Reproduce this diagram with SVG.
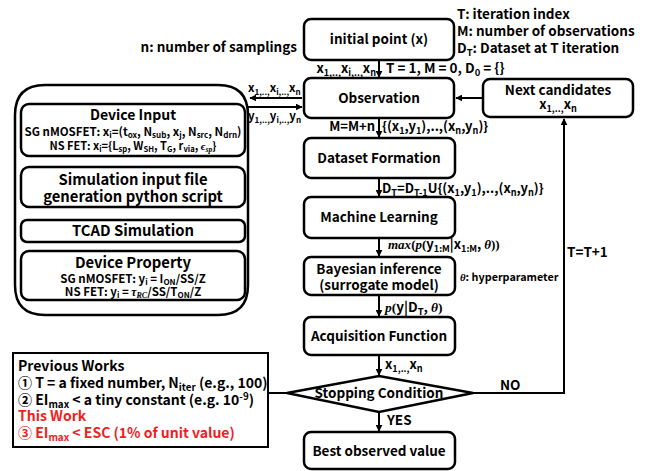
<svg xmlns="http://www.w3.org/2000/svg" width="654" height="471" viewBox="0 0 654 471">
<style>
text{font-family:"Noto Sans CJK KR","Noto Sans",sans-serif;font-weight:700;fill:#000}
.t15{font-size:13.5px}
.tb{font-size:14.8px}
.t14{font-size:13px}
.t12{font-size:11.5px}
.c{text-anchor:middle}
.e{text-anchor:end}
.s{font-size:70%}
.m{font-family:"Liberation Serif",serif;font-style:italic}
.n{font-family:"Liberation Serif",serif}
.box{fill:#fff;stroke:#000;stroke-width:2.5}
.ln{fill:none;stroke:#000;stroke-width:2}
.red{fill:#f01e1e}
</style>
<defs>
<marker id="ah" viewBox="0 0 10 10" refX="9" refY="5" markerWidth="3.5" markerHeight="3.5" orient="auto"><path d="M0,0 L10,5 L0,10 z" fill="#000"/></marker>
</defs>

<g id="connectors">
<line class="ln" x1="379" y1="60" x2="379" y2="77" marker-end="url(#ah)"/>
<line class="ln" x1="483" y1="98" x2="456" y2="98" marker-end="url(#ah)"/>
<line class="ln" x1="302" y1="98" x2="250" y2="98" marker-end="url(#ah)"/>
<line class="ln" x1="248" y1="107" x2="302" y2="107" marker-end="url(#ah)"/>
<line class="ln" x1="379" y1="118" x2="379" y2="137" marker-end="url(#ah)"/>
<line class="ln" x1="379" y1="178" x2="379" y2="196" marker-end="url(#ah)"/>
<line class="ln" x1="379" y1="238" x2="379" y2="256" marker-end="url(#ah)"/>
<line class="ln" x1="379" y1="295" x2="379" y2="316" marker-end="url(#ah)"/>
<line class="ln" x1="379" y1="355" x2="379" y2="375" marker-end="url(#ah)"/>
<line class="ln" x1="379" y1="412" x2="379" y2="431" marker-end="url(#ah)"/>
<polyline class="ln" points="473,393 564,393 564,119" marker-end="url(#ah)"/>
<line class="ln" x1="268" y1="393" x2="287" y2="393"/>
<line class="ln" x1="134" y1="156" x2="134" y2="166" marker-end="url(#ah)"/>
<line class="ln" x1="134" y1="207" x2="134" y2="219" marker-end="url(#ah)"/>
<line class="ln" x1="134" y1="242" x2="134" y2="250" marker-end="url(#ah)"/>
</g>

<g id="labels">
<text class="t15 e" x="297" y="52">n: number of samplings</text>
<text class="t15" x="457" y="19">T: iteration index</text>
<text class="t15" x="457" y="36">M: number of observations</text>
<text class="t15" x="457" y="53">D<tspan class="s" dy="3">T</tspan><tspan dy="-3">: Dataset at T iteration</tspan></text>
<text class="t14 e" x="376" y="73">x<tspan class="s" dy="3">1,..,</tspan><tspan dy="-3">x</tspan><tspan class="s" dy="3">i,..,</tspan><tspan dy="-3">x</tspan><tspan class="s" dy="3">n</tspan></text>
<text class="t15" x="386" y="73">T = 1, M = 0, D<tspan class="s" dy="3">0</tspan><tspan dy="-3"> = {}</tspan></text>
<text class="t12" x="248" y="92">x<tspan class="s" dy="3">1,..,</tspan><tspan dy="-3">x</tspan><tspan class="s" dy="3">i,..,</tspan><tspan dy="-3">x</tspan><tspan class="s" dy="3">n</tspan></text>
<text class="t12" x="248" y="120">y<tspan class="s" dy="3">1,..,</tspan><tspan dy="-3">y</tspan><tspan class="s" dy="3">i,..,</tspan><tspan dy="-3">y</tspan><tspan class="s" dy="3">n</tspan></text>
<text class="t14 e" x="375" y="131">M=M+n</text>
<text class="t14" x="382" y="131">{(x<tspan class="s" dy="3">1</tspan><tspan dy="-3">,y</tspan><tspan class="s" dy="3">1</tspan><tspan dy="-3">),..,(x</tspan><tspan class="s" dy="3">n</tspan><tspan dy="-3">,y</tspan><tspan class="s" dy="3">n</tspan><tspan dy="-3">)}</tspan></text>
<text class="t14" x="382" y="193">D<tspan class="s" dy="3">T</tspan><tspan dy="-3">=D</tspan><tspan class="s" dy="3">T-1</tspan><tspan dy="-3">U{(x</tspan><tspan class="s" dy="3">1</tspan><tspan dy="-3">,y</tspan><tspan class="s" dy="3">1</tspan><tspan dy="-3">),..,(x</tspan><tspan class="s" dy="3">n</tspan><tspan dy="-3">,y</tspan><tspan class="s" dy="3">n</tspan><tspan dy="-3">)}</tspan></text>
<text class="t14" x="388" y="249"><tspan class="m">max</tspan><tspan class="n">(</tspan><tspan class="m">p</tspan><tspan class="n">(</tspan>y<tspan class="s" dy="3">1:M</tspan><tspan dy="-3">|x</tspan><tspan class="s" dy="3">1:M</tspan><tspan dy="-3">, </tspan><tspan class="m">θ</tspan><tspan class="n">))</tspan></text>
<text font-size="10.8px" x="460" y="281"><tspan class="m">θ</tspan>: hyperparameter</text>
<text class="t15" x="567" y="257">T=T+1</text>
<text class="t15" x="385" y="312"><tspan class="m">p</tspan><tspan class="n">(</tspan>y|D<tspan class="s" dy="3">T</tspan><tspan dy="-3">, </tspan><tspan class="m">θ</tspan><tspan class="n">)</tspan></text>
<text class="t14" x="385" y="369">x<tspan class="s" dy="3">1,..,</tspan><tspan dy="-3">x</tspan><tspan class="s" dy="3">n</tspan></text>
<text class="t15" x="500" y="390">NO</text>
<text class="t15" x="387" y="425">YES</text>
</g>

<g id="initial">
<rect class="box" x="304" y="19" width="150" height="41" rx="7"/>
<text class="t15 c" x="379" y="44">initial point (x)</text>
</g>
<g id="observation">
<rect class="box" x="304" y="78" width="150" height="40" rx="7"/>
<text class="t15 c" x="379" y="103">Observation</text>
</g>
<g id="next">
<rect class="box" x="483" y="79" width="150" height="38" rx="7"/>
<text class="t15 c" x="558" y="95">Next candidates</text>
<text class="t14 c" x="558" y="109">x<tspan class="s" dy="3">1,..,</tspan><tspan dy="-3">x</tspan><tspan class="s" dy="3">n</tspan></text>
</g>
<g id="dataset">
<rect class="box" x="304" y="138" width="151" height="40" rx="7"/>
<text class="t15 c" x="379" y="163">Dataset Formation</text>
</g>
<g id="ml">
<rect class="box" x="304" y="197" width="151" height="41" rx="7"/>
<text class="t15 c" x="379" y="222">Machine Learning</text>
</g>
<g id="bayes">
<rect class="box" x="304" y="257" width="151" height="38" rx="7"/>
<text class="t15 c" x="379" y="274">Bayesian inference</text>
<text class="t15 c" x="379" y="290">(surrogate model)</text>
</g>
<g id="acq">
<rect class="box" x="304" y="317" width="151" height="38" rx="7"/>
<text class="t15 c" x="379" y="341">Acquisition Function</text>
</g>
<g id="stopping">
<polygon class="box" points="287,393 379,376 473,393 379,412"/>
<text class="t15 c" x="379" y="398">Stopping Condition</text>
</g>
<g id="best">
<rect class="box" x="304" y="432" width="151" height="37" rx="7"/>
<text class="t15 c" x="379" y="456">Best observed value</text>
</g>

<g id="device">
<path class="box" d="M45,85 H218 Q248,85 248,115 V285 Q248,315 218,315 H45 Q15,315 15,285 V115 Q15,85 45,85 Z"/>
<g id="device-input">
<rect class="box" x="21" y="104" width="224" height="52" rx="8"/>
<text class="c" font-size="14px" x="133" y="120">Device Input</text>
<text class="t12 c" x="133" y="136">SG nMOSFET: x<tspan class="s" dy="2">i</tspan><tspan dy="-2">=(t</tspan><tspan class="s" dy="2">ox</tspan><tspan dy="-2">, N</tspan><tspan class="s" dy="2">sub</tspan><tspan dy="-2">, x</tspan><tspan class="s" dy="2">j</tspan><tspan dy="-2">, N</tspan><tspan class="s" dy="2">src</tspan><tspan dy="-2">, N</tspan><tspan class="s" dy="2">drn</tspan><tspan dy="-2">)</tspan></text>
<text class="c" font-size="11px" x="133" y="150">NS FET: x<tspan class="s" dy="2">i</tspan><tspan dy="-2">={L</tspan><tspan class="s" dy="2">sp</tspan><tspan dy="-2">, W</tspan><tspan class="s" dy="2">SH</tspan><tspan dy="-2">, T</tspan><tspan class="s" dy="2">G</tspan><tspan dy="-2">, r</tspan><tspan class="s" dy="2">via</tspan><tspan dy="-2">, </tspan><tspan class="m">ϵ</tspan><tspan class="m s" dy="2">sp</tspan><tspan dy="-2">}</tspan></text>
</g>
<g id="sim-input">
<rect class="box" x="21" y="167" width="224" height="40" rx="8"/>
<text class="tb c" x="133" y="185">Simulation input file</text>
<text class="tb c" x="133" y="202">generation python script</text>
</g>
<g id="tcad">
<rect class="box" x="21" y="220" width="224" height="22" rx="6"/>
<text class="tb c" x="133" y="236">TCAD Simulation</text>
</g>
<g id="device-property">
<rect class="box" x="21" y="251" width="224" height="49" rx="8"/>
<text class="tb c" x="133" y="268">Device Property</text>
<text class="t12 c" x="133" y="283">SG nMOSFET: y<tspan class="s" dy="2">i</tspan><tspan dy="-2"> = I</tspan><tspan class="s" dy="2">ON</tspan><tspan dy="-2">/SS/Z</tspan></text>
<text class="t12 c" x="133" y="296">NS FET: y<tspan class="s" dy="2">i</tspan><tspan dy="-2"> = </tspan><tspan class="m">τ</tspan><tspan class="m s" dy="2">RC</tspan><tspan dy="-2">/SS/T</tspan><tspan class="s" dy="2">ON</tspan><tspan dy="-2">/Z</tspan></text>
</g>
</g>

<g id="works">
<rect x="13" y="353" width="255" height="94" fill="#fff" stroke="#000" stroke-width="2"/>
<text font-size="14px" x="18" y="371">Previous Works</text>
<text font-size="14px" x="18" y="388">① T = a fixed number, N<tspan class="s" dy="3">iter</tspan><tspan dy="-3"> (e.g., 100)</tspan></text>
<text font-size="14px" x="18" y="405">② EI<tspan class="s" dy="3">max</tspan><tspan dy="-3"> &lt; a tiny constant (e.g. 10</tspan><tspan class="s" dy="-5">-9</tspan><tspan dy="5">)</tspan></text>
<text font-size="14px" class="red" x="18" y="421">This Work</text>
<text font-size="14px" class="red" x="18" y="438">③ EI<tspan class="s" dy="3">max</tspan><tspan dy="-3"> &lt; ESC (1% of unit value)</tspan></text>
</g>
</svg>
